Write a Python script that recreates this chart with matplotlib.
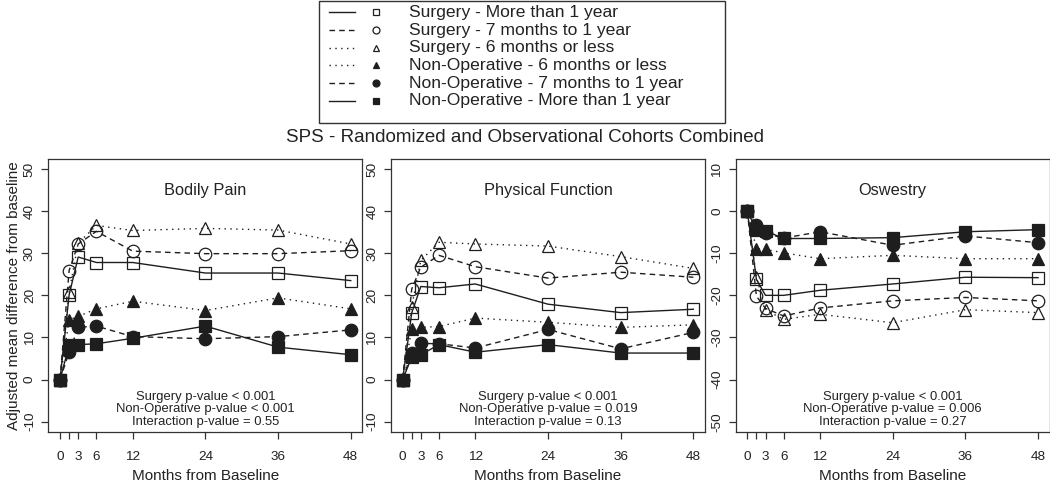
import matplotlib
matplotlib.use("Agg")
import matplotlib.pyplot as plt
from matplotlib.lines import Line2D
from matplotlib.patches import Rectangle

plt.rcParams['font.family'] = ['Liberation Sans', 'DejaVu Sans']

months = [0, 1.5, 3, 6, 12, 24, 36, 48]
tick_positions = [0, 1.5, 3, 6, 12, 24, 36, 48]
tick_labels = ["0", "", "3", "6", "12", "24", "36", "48"]

series_names = [
    "Surgery - More than 1 year",
    "Surgery - 7 months to 1 year",
    "Surgery - 6 months or less",
    "Non-Operative - 6 months or less",
    "Non-Operative - 7 months to 1 year",
    "Non-Operative - More than 1 year",
]

# Bodily Pain
bp_surg_gt1y = [0, 20.1, 29.1, 27.8, 27.8, 25.3, 25.3, 23.5]
bp_surg_7to12 = [0, 25.9, 32.2, 35.2, 30.5, 29.9, 29.9, 30.6]
bp_surg_le6 = [0, 20.7, 32.4, 36.6, 35.4, 35.9, 35.5, 32.2]
bp_nonop_le6 = [0, 14.2, 15.0, 16.8, 18.6, 16.4, 19.4, 16.8]
bp_nonop_7to12 = [0, 6.5, 12.4, 12.7, 10.2, 9.7, 10.2, 11.8]
bp_nonop_gt1y = [0, 8.1, 8.3, 8.5, 9.8, 12.7, 7.7, 5.9]

# Physical Function
pf_surg_gt1y = [0, 15.8, 22.1, 21.8, 22.7, 17.9, 15.9, 16.7]
pf_surg_7to12 = [0, 21.5, 26.7, 29.5, 26.8, 24.1, 25.5, 24.3]
pf_surg_le6 = [0, 17.3, 28.3, 32.6, 32.2, 31.7, 29.2, 26.4]
pf_nonop_le6 = [0, 12.0, 12.4, 12.6, 14.6, 13.6, 12.4, 13.0]
pf_nonop_7to12 = [0, 6.4, 8.6, 8.5, 7.5, 11.9, 7.3, 11.2]
pf_nonop_gt1y = [0, 5.3, 5.9, 8.3, 6.5, 8.3, 6.3, 6.3]

# Oswestry
od_surg_gt1y = [0, -16.2, -20.0, -20.0, -18.8, -17.3, -15.7, -15.8]
od_surg_7to12 = [0, -20.2, -23.1, -24.9, -23.0, -21.3, -20.5, -21.3]
od_surg_le6 = [0, -15.6, -23.5, -25.7, -24.5, -26.5, -23.4, -24.1]
od_nonop_le6 = [0, -8.9, -9.1, -9.9, -11.3, -10.5, -11.3, -11.3]
od_nonop_7to12 = [0, -3.3, -5.3, -6.4, -4.9, -8.1, -5.9, -7.5]
od_nonop_gt1y = [0, -4.5, -4.7, -6.5, -6.5, -6.3, -4.9, -4.4]

panel_titles = ["Bodily Pain", "Physical Function", "Oswestry"]
panel_data = [
    [bp_surg_gt1y, bp_surg_7to12, bp_surg_le6, bp_nonop_le6, bp_nonop_7to12, bp_nonop_gt1y],
    [pf_surg_gt1y, pf_surg_7to12, pf_surg_le6, pf_nonop_le6, pf_nonop_7to12, pf_nonop_gt1y],
    [od_surg_gt1y, od_surg_7to12, od_surg_le6, od_nonop_le6, od_nonop_7to12, od_nonop_gt1y],
]
panel_yticks = [
    [-10, 0, 10, 20, 30, 40, 50],
    [-10, 0, 10, 20, 30, 40, 50],
    [-50, -40, -30, -20, -10, 0, 10],
]
panel_pvalues = [
    ["Surgery p-value < 0.001", "Non-Operative p-value < 0.001", "Interaction p-value = 0.55"],
    ["Surgery p-value < 0.001", "Non-Operative p-value = 0.019", "Interaction p-value = 0.13"],
    ["Surgery p-value < 0.001", "Non-Operative p-value = 0.006", "Interaction p-value = 0.27"],
]

ink = "#1e1e1e"
dotted = (0, (1, 3.2))
dashed = (0, (4, 3))
styles = [
    dict(ls="-", marker="s", mfc="none"),
    dict(ls=dashed, marker="o", mfc="none"),
    dict(ls=dotted, marker="^", mfc="none"),
    dict(ls=dotted, marker="^", mfc=ink),
    dict(ls=dashed, marker="o", mfc=ink),
    dict(ls="-", marker="s", mfc=ink),
]

W, H = 1050, 484
fig = plt.figure(figsize=(W / 100, H / 100), dpi=100)

lefts = [48.4, 391.0, 735.7]
axw = 314.0
ax_top, ax_bot = 158.9, 431.8

for i in range(3):
    ax = fig.add_axes([lefts[i] / W, 1 - ax_bot / H, axw / W, (ax_bot - ax_top) / H])
    for s, vals in enumerate(panel_data[i]):
        st = styles[s]
        ax.plot(months, vals, linestyle=st["ls"], color=ink, lw=1.0,
                marker=st["marker"], markersize=9,
                markerfacecolor=st["mfc"], markeredgecolor=ink, markeredgewidth=0.9,
                zorder=3 + s)
    yt = panel_yticks[i]
    ax.set_xlim(-1.92, 49.92)
    rng = yt[-1] - yt[0]
    ax.set_ylim(yt[0] - 0.04 * rng, yt[-1] + 0.04 * rng)
    ax.set_yticks(yt)
    ax.set_yticklabels([str(v) for v in yt], rotation=90, va="center", fontsize=9.7, color="#222")
    ax.set_xticks(tick_positions)
    ax.set_xticklabels(tick_labels, fontsize=9.7, color="#222")
    ax.tick_params(direction="out", length=5, width=0.9, color="#333", pad=9)
    ax.tick_params(axis="y", pad=4)
    for sp in ax.spines.values():
        sp.set_linewidth(0.9)
        sp.set_color("#333")
    ax.set_xlabel("Months from Baseline", fontsize=11, color="#222", labelpad=4)
    ax.text(0.5, 0.885, panel_titles[i], transform=ax.transAxes, ha="center",
            va="center", fontsize=11.8, color="#222")
    for k, line in enumerate(panel_pvalues[i]):
        ax.text(0.5, 0.128 - k * 0.046, line, transform=ax.transAxes, ha="center",
                va="center", fontsize=9.4, color="#222")
    if i == 0:
        ax.set_ylabel("Adjusted mean difference from baseline", fontsize=11, color="#222", labelpad=2)

# Legend box (figure-level)
box_l, box_r, box_t, box_b = 319, 725, 1.5, 123
fig.patches.append(Rectangle((box_l / W, 1 - box_b / H), (box_r - box_l) / W, (box_b - box_t) / H,
                             transform=fig.transFigure, fill=False, ec="#333", lw=1.0))
row_y = [12.3, 30.0, 47.7, 65.4, 83.1, 100.8]
for s, name in enumerate(series_names):
    st = styles[s]
    yy = 1 - row_y[s] / H
    fig.add_artist(Line2D([329 / W, 355 / W], [yy, yy], transform=fig.transFigure,
                          color=ink, lw=1.0, linestyle=st["ls"]))
    fig.add_artist(Line2D([376 / W], [yy], transform=fig.transFigure, marker=st["marker"],
                          markersize=5, markerfacecolor=st["mfc"], markeredgecolor=ink,
                          markeredgewidth=0.9, linestyle="none"))
    fig.text(409 / W, yy, name, ha="left", va="center", fontsize=12.6, color="#222")

fig.text(525 / W, 1 - 137 / H, "SPS - Randomized and Observational Cohorts Combined",
         ha="center", va="center", fontsize=13.5, color="#222")

fig.savefig("out.png", dpi=100)
